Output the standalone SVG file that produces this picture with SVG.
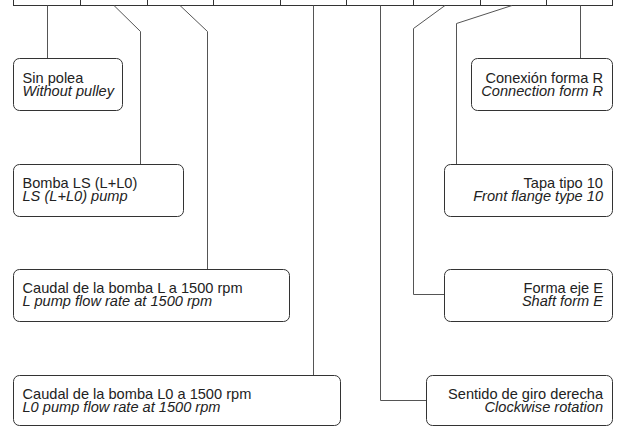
<svg xmlns="http://www.w3.org/2000/svg" width="618" height="427" viewBox="0 0 618 427">
<style>
.cell{fill:none;stroke:#333;stroke-width:1}
.box{fill:#fff;stroke:#333;stroke-width:1}
.con{fill:none;stroke:#555;stroke-width:1}
text{font-family:"Liberation Sans",Arial,sans-serif;font-size:14.6px;fill:#222}
.it{font-style:italic}
.r{text-anchor:end}
</style>
<rect x="0" y="0" width="618" height="427" fill="#fff"/>
<g id="code-row">
<rect class="cell" x="13.5" y="-20" width="599" height="25.5"/>
<path class="cell" d="M80.5 -20V5.5M147.5 -20V5.5M213.5 -20V5.5M280.5 -20V5.5M346.5 -20V5.5M413.5 -20V5.5M480.5 -20V5.5M546.5 -20V5.5"/>
</g>
<g id="connectors">
<path class="con" d="M47.5 5.5V58.5"/>
<path class="con" d="M114 5.5L140.5 31.5V164.5"/>
<path class="con" d="M180 5.5L207.5 31.5V269.5"/>
<path class="con" d="M313.5 5.5V375.5"/>
<path class="con" d="M380.5 5.5V400.5H426.5"/>
<path class="con" d="M445 5.5L413.5 28.5V294.5H444.5"/>
<path class="con" d="M512 5.5L456.5 23.5V164.5"/>
<path class="con" d="M580.5 5.5V58.5"/>
</g>
<g id="n-sin-polea">
<rect class="box" x="13.5" y="58.5" width="109" height="52" rx="6"/>
<text x="22.5" y="82.5">Sin polea</text>
<text class="it" x="22.5" y="95.5">Without pulley</text>
</g>
<g id="n-bomba-ls">
<rect class="box" x="13.5" y="164.5" width="170" height="52" rx="6"/>
<text x="22.5" y="188">Bomba LS (L+L0)</text>
<text class="it" x="22.5" y="201">LS (L+L0) pump</text>
</g>
<g id="n-caudal-l">
<rect class="box" x="13.5" y="269.5" width="276" height="52" rx="6"/>
<text x="22.5" y="293">Caudal de la bomba L a 1500 rpm</text>
<text class="it" x="22.5" y="306">L pump flow rate at 1500 rpm</text>
</g>
<g id="n-caudal-l0">
<rect class="box" x="13.5" y="375.5" width="327" height="50" rx="6"/>
<text x="22.5" y="399">Caudal de la bomba L0 a 1500 rpm</text>
<text class="it" x="22.5" y="412">L0 pump flow rate at 1500 rpm</text>
</g>
<g id="n-conexion">
<rect class="box" x="471.5" y="58.5" width="141" height="52" rx="6"/>
<text class="r" x="603" y="82.5">Conexión forma R</text>
<text class="it r" x="603" y="95.5">Connection form R</text>
</g>
<g id="n-tapa">
<rect class="box" x="444.5" y="164.5" width="168" height="52" rx="6"/>
<text class="r" x="603" y="188">Tapa tipo 10</text>
<text class="it r" x="603" y="201">Front flange type 10</text>
</g>
<g id="n-forma-eje">
<rect class="box" x="444.5" y="269.5" width="168" height="52" rx="6"/>
<text class="r" x="603" y="293">Forma eje E</text>
<text class="it r" x="603" y="306">Shaft form E</text>
</g>
<g id="n-sentido">
<rect class="box" x="426.5" y="375.5" width="186" height="50" rx="6"/>
<text class="r" x="603" y="399">Sentido de giro derecha</text>
<text class="it r" x="603" y="412">Clockwise rotation</text>
</g>
</svg>
